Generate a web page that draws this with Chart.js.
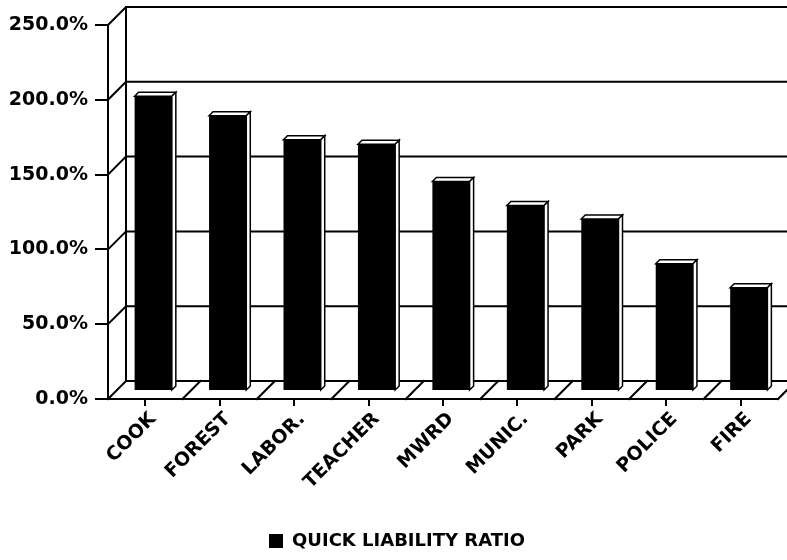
<!DOCTYPE html>
<html>
<head>
<meta charset="utf-8">
<script src="https://cdn.jsdelivr.net/npm/chart.js@4.4.1/dist/chart.umd.min.js"></script>
<style>
  html, body { margin: 0; padding: 0; background: #fff; }
  #wrap { width: 787px; height: 560px; }
</style>
</head>
<body>
<div id="wrap"><canvas id="c" width="787" height="560"></canvas></div>
<script>
// Quick liability ratio by fund (percent)
const categories = ['COOK', 'FOREST', 'LABOR.', 'TEACHER', 'MWRD', 'MUNIC.', 'PARK', 'POLICE', 'FIRE'];
const quickLiabilityRatio = [197, 184, 168, 165, 140, 124, 115, 85, 69];
const yTicks = [0, 50, 100, 150, 200, 250];
const seriesLabel = 'QUICK LIABILITY RATIO';

// pseudo-3D geometry (pixels)
const DEPTH = 18;      // distance from front axes to the back wall
const BAR_SHIFT = 8;   // bars stand partway back on the floor
const BAR_SIDE = 4;    // visible thickness of each bar
const LEGEND_NUDGE = 8; // legend sits a little right of the canvas centre

const FONT = 'DejaVu Sans';

const frame3d = {
  id: 'frame3d',
  afterLayout(chart) {
    if (chart.legend) {
      chart.legend.left += LEGEND_NUDGE;
      chart.legend.right += LEGEND_NUDGE;
    }
  },
  beforeDatasetsDraw(chart) {
    const { ctx, chartArea: a, scales: { x, y } } = chart;
    const d = DEPTH;
    ctx.save();
    ctx.strokeStyle = '#000';
    ctx.lineWidth = 2;
    ctx.lineCap = 'square';
    ctx.beginPath();
    // back wall left edge
    ctx.moveTo(a.left + d, a.bottom - d);
    ctx.lineTo(a.left + d, a.top - d);
    // connectors from the front ticks and gridlines on the back wall
    yTicks.forEach(v => {
      const py = y.getPixelForValue(v);
      ctx.moveTo(a.left, py);
      ctx.lineTo(a.left + d, py - d);
      ctx.lineTo(chart.width + 30, py - d);
    });
    // floor: right edge and dividers between categories
    ctx.moveTo(a.right, a.bottom);
    ctx.lineTo(a.right + d, a.bottom - d);
    const step = x.getPixelForValue(1) - x.getPixelForValue(0);
    for (let i = 1; i < categories.length; i++) {
      const px = x.getPixelForValue(i) - step / 2;
      ctx.moveTo(px, a.bottom);
      ctx.lineTo(px + d, a.bottom - d);
    }
    ctx.stroke();
    ctx.restore();
    // bars are drawn set back on the floor
    ctx.save();
    ctx.translate(BAR_SHIFT, -BAR_SHIFT);
  },
  afterDatasetsDraw(chart) {
    const { ctx } = chart;
    ctx.restore();
    const s = BAR_SIDE;
    ctx.save();
    ctx.fillStyle = '#fff';
    ctx.strokeStyle = '#000';
    ctx.lineWidth = 1.5;
    ctx.lineJoin = 'miter';
    chart.getDatasetMeta(0).data.forEach(bar => {
      const p = bar.getProps(['x', 'y', 'base', 'width'], true);
      const left = p.x - p.width / 2 + BAR_SHIFT;
      const right = p.x + p.width / 2 + BAR_SHIFT;
      const top = p.y - BAR_SHIFT;
      const bottom = p.base - BAR_SHIFT;
      // top face
      ctx.beginPath();
      ctx.moveTo(left, top);
      ctx.lineTo(left + s, top - s);
      ctx.lineTo(right + s, top - s);
      ctx.lineTo(right, top);
      ctx.closePath();
      ctx.fill();
      ctx.stroke();
      // side face
      ctx.beginPath();
      ctx.moveTo(right, top);
      ctx.lineTo(right + s, top - s);
      ctx.lineTo(right + s, bottom - s);
      ctx.lineTo(right, bottom);
      ctx.closePath();
      ctx.fill();
      ctx.stroke();
    });
    ctx.restore();
  }
};

new Chart(document.getElementById('c'), {
  type: 'bar',
  data: {
    labels: categories,
    datasets: [{
      label: seriesLabel,
      data: quickLiabilityRatio,
      backgroundColor: '#000',
      borderWidth: 0,
      categoryPercentage: 1.0,
      barPercentage: 0.5
    }]
  },
  options: {
    responsive: false,
    animation: false,
    layout: { padding: { top: 25, right: 9, bottom: 0, left: 0 } },
    plugins: {
      tooltip: { enabled: false },
      legend: {
        position: 'bottom',
        labels: {
          color: '#000',
          boxWidth: 14,
          boxHeight: 14,
          padding: 6,
          font: { family: FONT, weight: 'bold', size: 18 }
        }
      }
    },
    scales: {
      x: {
        offset: true,
        grid: { offset: false, drawOnChartArea: false, tickLength: 7, color: '#000', lineWidth: 2 },
        border: { display: true, color: '#000', width: 2 },
        ticks: {
          color: '#000',
          minRotation: 45,
          maxRotation: 45,
          padding: 2,
          labelOffset: 8,
          font: { family: FONT, weight: 'bold', size: 19 }
        },
        afterFit(scale) { scale.height = 127; }
      },
      y: {
        min: 0,
        max: 250,
        afterBuildTicks(scale) { scale.ticks = yTicks.map(v => ({ value: v })); },
        grid: { drawOnChartArea: false, tickLength: 13, color: '#000', lineWidth: 2 },
        border: { display: true, color: '#000', width: 2 },
        ticks: {
          color: '#000',
          padding: 7,
          font: { family: FONT, weight: 'bold', size: 19 },
          callback: v => v.toFixed(1) + '%'
        },
        afterFit(scale) { scale.width = 108; }
      }
    }
  },
  plugins: [frame3d]
});
</script>
</body>
</html>
